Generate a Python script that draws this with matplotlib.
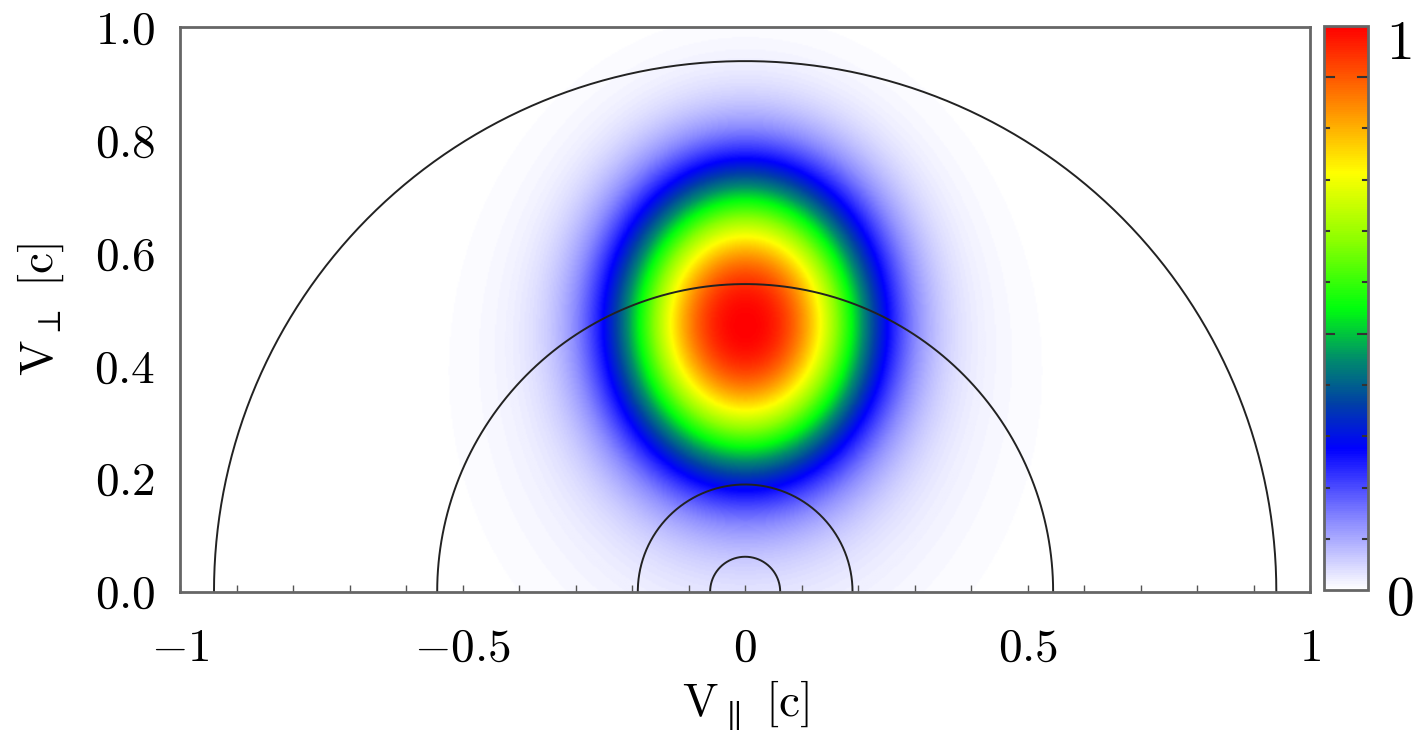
import numpy as np
import matplotlib
matplotlib.use('Agg')
import matplotlib.pyplot as plt
from matplotlib.colors import LinearSegmentedColormap

plt.rcParams['mathtext.fontset'] = 'cm'
plt.rcParams['font.family'] = 'serif'
plt.rcParams['font.serif'] = ['cmr10', 'DejaVu Serif']
plt.rcParams['axes.formatter.use_mathtext'] = True

# Distribution parameters (peak normalised to 1)
peak_v_par = 0.0
peak_v_perp = 0.48
width_v_par = 0.215
width_v_perp = 0.25
core_exponent = 2.4
# faint halo, sitting a little lower than the core
halo_fraction = 0.08
halo_v_perp = 0.38
halo_width_par = 0.30
halo_width_perp = 0.34

# Radii of the velocity circles [c]
circle_radii = [0.94, 0.545, 0.19, 0.062]

x_ticks = [-1, -0.5, 0, 0.5, 1]
x_tick_labels = ['$-1$', '$-0.5$', '$0$', '$0.5$', '$1$']
y_ticks = [0.0, 0.2, 0.4, 0.6, 0.8, 1.0]
y_tick_labels = ['$0.0$', '$0.2$', '$0.4$', '$0.6$', '$0.8$', '$1.0$']

# colour table: white - blue - teal - green - yellow - orange - red
cmap = LinearSegmentedColormap.from_list('idl_like', [
    (0.00, (1.0, 1.0, 1.0)),
    (0.12, (0.55, 0.55, 1.0)),
    (0.25, (0.0, 0.0, 1.0)),
    (0.33, (0.0, 0.25, 0.65)),
    (0.41, (0.0, 0.55, 0.42)),
    (0.50, (0.0, 1.0, 0.05)),
    (0.62, (0.55, 1.0, 0.0)),
    (0.74, (1.0, 1.0, 0.0)),
    (0.87, (1.0, 0.5, 0.0)),
    (1.00, (1.0, 0.0, 0.0)),
])

vpar = np.linspace(-1, 1, 801)
vperp = np.linspace(0, 1, 401)
VX, VY = np.meshgrid(vpar, vperp)
r = np.sqrt(((VX - peak_v_par) / width_v_par) ** 2 + ((VY - peak_v_perp) / width_v_perp) ** 2)
rh2 = ((VX - peak_v_par) / halo_width_par) ** 2 + ((VY - halo_v_perp) / halo_width_perp) ** 2
f = (1 - halo_fraction) * np.exp(-r ** core_exponent) + halo_fraction * np.exp(-rh2)
f = f / f.max()

fig = plt.figure(figsize=(14.18, 7.36), dpi=100)
ax = fig.add_axes([0.127, 0.196, 0.797, 0.767])
cax = fig.add_axes([0.934, 0.198, 0.031, 0.767])

im = ax.imshow(f, origin='lower', extent=[-1, 1, 0, 1], cmap=cmap, vmin=0, vmax=1,
               aspect='auto', interpolation='bilinear')

theta = np.linspace(0, np.pi, 400)
for rad in circle_radii:
    ax.plot(rad * np.cos(theta), rad * np.sin(theta), color='#222222', lw=1.4)

ax.set_xlim(-1, 1)
ax.set_ylim(0, 1)
ax.set_xticks(x_ticks)
ax.set_xticklabels(x_tick_labels)
ax.set_xticks(np.arange(-1, 1.01, 0.1), minor=True)
ax.set_yticks(y_ticks)
ax.set_yticklabels(y_tick_labels)
ax.tick_params(axis='x', which='both', direction='in', length=5, width=1, color='#555555',
               labelsize=34, pad=26)
ax.tick_params(axis='y', which='both', length=0, labelsize=34, pad=18)
for s in ax.spines.values():
    s.set_color('#666666')
    s.set_linewidth(2)

ax.set_xlabel(r'$\mathrm{V_{\parallel}\ [c]}$', fontsize=34, labelpad=6)
ax.set_ylabel(r'$\mathrm{V_{\perp}\ [c]}$', fontsize=34, labelpad=20)

cb = fig.colorbar(im, cax=cax)
cb.set_ticks([])
cb.outline.set_edgecolor('#666666')
cb.outline.set_linewidth(2)
for k in range(1, 11):
    yv = 1 - k / 11
    ln = 10 if k in (1, 6) else 5
    cax.plot([0, ln / 44], [yv, yv], color='#333333', lw=1.5, transform=cax.transAxes)
    cax.plot([1, 1 - ln / 44], [yv, yv], color='#333333', lw=1.5, transform=cax.transAxes)
cax.text(1.4, 1.01, '$1$', transform=cax.transAxes, fontsize=40, va='top', ha='left')
cax.text(1.4, -0.02, '$0$', transform=cax.transAxes, fontsize=40, va='center', ha='left')

fig.savefig('out.png', dpi=100)
